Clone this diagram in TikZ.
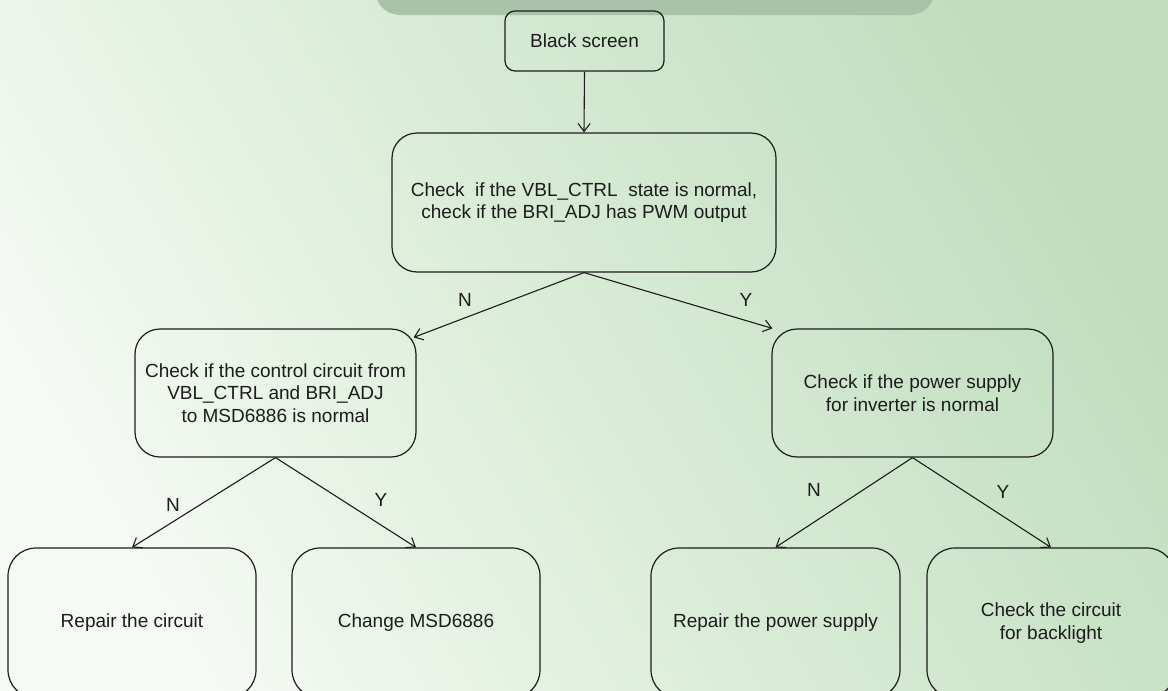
\documentclass[tikz,border=0pt]{standalone}
\usepackage{fontspec}
\setmainfont{Liberation Sans}
\usetikzlibrary{arrows.meta}
\definecolor{bgwhite}{HTML}{F5FAF4}
\definecolor{bgmid}{HTML}{D9ECD6}
\definecolor{bggreen}{HTML}{C0DEBE}
\definecolor{topbar}{HTML}{A8C3A7}
\definecolor{ink}{HTML}{1C1C1C}
\tikzset{
  txt/.style={text=ink, font=\fontsize{19pt}{22.5pt}\selectfont},
  box/.style={txt, draw=ink, line width=1.2pt, rounded corners=25pt, inner sep=0pt, align=center},
  smallbox/.style={box, rounded corners=10pt},
  bigbox/.style={box, rounded corners=28pt},
  conn/.style={draw=ink, line width=1.1pt, -{Straight Barb[length=8pt,width=12pt]}},
  lbl/.style={txt, inner sep=0pt}
}
\begin{document}
\begin{tikzpicture}[x=1pt, y=-1pt]
\useasboundingbox (0,0) rectangle (1168,691);
\clip (0,0) rectangle (1168,691);
\shade[shading=axis, bottom color=bgwhite, top color=bggreen, middle color=bgmid, shading angle=-60] (0,0) rectangle (1168,691);
\fill[topbar, rounded corners=25pt] (375,-40) rectangle (935,15);

\node[smallbox, minimum width=159pt, minimum height=60pt] (bs) at (584.5,41) {Black screen};
\node[box, minimum width=384pt, minimum height=139pt] (main) at (584,202.5)
  {Check\ \ if the VBL\_CTRL\ \ state is normal,\\check if the BRI\_ADJ has PWM output};
\node[box, minimum width=281pt, minimum height=128pt] (lm) at (275.5,393)
  {Check if the control circuit from\\VBL\_CTRL and BRI\_ADJ\\to MSD6886 is normal};
\node[box, minimum width=281pt, minimum height=128pt] (rm) at (912.5,393)
  {Check if the power supply\\for inverter is normal};
\node[bigbox, minimum width=248pt, minimum height=150pt] (b1) at (132,623) {Repair the circuit};
\node[bigbox, minimum width=248pt, minimum height=150pt] (b2) at (416,623) {Change MSD6886};
\node[bigbox, minimum width=249pt, minimum height=150pt] (b3) at (775.5,623) {Repair the power supply};
\node[bigbox, minimum width=248pt, minimum height=150pt] (b4) at (1051,623) {Check the circuit\\for backlight};

\draw[conn] (bs.south) -- (main.north);
\draw[conn] (main.south) -- ([xshift=-3pt,yshift=-9pt]lm.north east);
\draw[conn] (main.south) -- ([xshift=1pt]rm.north west);
\draw[conn] (lm.south) -- (b1.north);
\draw[conn] (lm.south) -- (b2.north);
\draw[conn] (rm.south) -- (b3.north);
\draw[conn] (rm.south) -- (b4.north);

\node[lbl] (n1) at (465,300) {N};
\node[lbl] (y1) at (746,300) {Y};
\node[lbl] (n2) at (173,505) {N};
\node[lbl] (y2) at (381,500) {Y};
\node[lbl] (n3) at (814,490) {N};
\node[lbl] (y3) at (1003,492) {Y};
\end{tikzpicture}
\end{document}
